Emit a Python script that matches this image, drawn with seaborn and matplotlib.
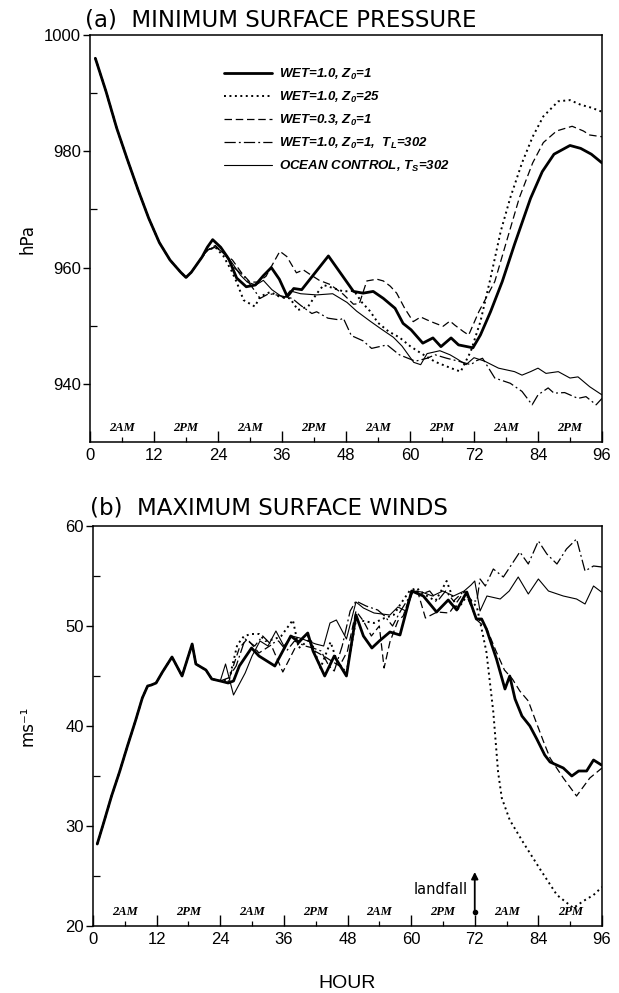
import matplotlib
matplotlib.use("Agg")
import matplotlib.pyplot as plt
import seaborn as sns
from matplotlib import font_manager
from matplotlib.ticker import FixedLocator

# ---------------- data ----------------
LABELS = ["WET=1.0, Z$_0$=1", "WET=1.0, Z$_0$=25", "WET=0.3, Z$_0$=1",
          "WET=1.0, Z$_0$=1,  T$_L$=302", "OCEAN CONTROL, T$_S$=302"]

# (a) minimum surface pressure (hPa) -- common early part
A_COMMON_H = [1, 3, 5, 7, 9, 11, 13, 15, 17, 18, 19, 20, 21]
A_COMMON_P = [996.0, 990.3, 984.0, 978.6, 973.4, 968.5, 964.3, 961.3, 959.2, 958.3, 959.2, 960.5, 961.8]

A1_H = [22, 23, 24.5, 26, 27.5, 29.3, 31, 32.5, 34, 35.5, 37, 38.2, 39.7, 44.7, 49.4, 51.2, 53.1, 55, 57.2, 58.7,
        60.2, 62.4, 64.3, 65.8, 67.7, 69.1, 71.8, 73.2, 75.1, 77.3, 79.6, 82.6, 84.8, 87, 90, 92, 94, 96]
A1_P = [963.5, 964.8, 963.5, 961.5, 958.2, 956.7, 957.0, 958.6, 960.0, 958.0, 955.0, 956.4, 956.2, 962.0, 955.9,
        955.6, 955.9, 954.7, 953.0, 950.4, 949.3, 947.0, 947.9, 946.4, 947.9, 946.7, 946.2, 948.4, 952.4, 957.6,
        964.0, 971.9, 976.5, 979.5, 981.0, 980.5, 979.5, 978.0]

A2_H = [22, 23.5, 25, 26.5, 27.5, 28.8, 30.9, 31.9, 33.8, 35.5, 37.5, 39, 40.9, 42.5, 43.8, 45.5, 47.5, 49.5, 51,
        52.5, 54, 56, 58, 60, 62, 64.7, 67.7, 69.5, 71.4, 73.2, 75.1, 77, 78.8, 81, 83, 85, 87.8, 90, 92, 94, 96]
A2_P = [963.0, 963.5, 962.0, 959.5, 957.5, 954.4, 953.3, 955.0, 955.8, 955.0, 954.7, 952.7, 953.3, 955.5, 957.0,
        956.5, 955.9, 956.0, 954.0, 952.5, 950.5, 949.0, 948.0, 946.5, 945.3, 943.8, 942.7, 942.1, 945.6, 950.7,
        958.2, 966.2, 972.0, 978.0, 982.5, 986.0, 988.6, 988.8, 988.0, 987.5, 986.8]

A3_H = [22, 23.5, 25, 26.7, 28.5, 30, 31.5, 33, 34.5, 35.6, 36.9, 38.7, 40, 41.3, 43, 45, 47.5, 49.4, 50.5, 51.9,
        53.8, 55, 56.3, 57.5, 59, 60.6, 62, 63.2, 64.5, 66.2, 67.5, 68.4, 70, 71, 72.9, 75.9, 78.1, 80.5, 83, 85,
        87.5, 90.4, 92.5, 93.7, 96]
A3_P = [963.0, 963.8, 962.5, 961.3, 959.0, 957.5, 957.5, 958.5, 961.0, 962.8, 961.9, 959.1, 959.6, 958.8, 957.8,
        957.1, 955.4, 953.7, 953.8, 957.7, 958.0, 957.7, 956.8, 955.6, 953.0, 950.7, 951.5, 951.0, 950.5, 949.9,
        950.8, 950.1, 949.0, 948.4, 952.4, 957.6, 964.5, 972.0, 978.0, 981.5, 983.5, 984.3, 983.5, 982.8, 982.5]

A4_H = [22, 23.5, 25, 27, 28.9, 30.5, 31.9, 33.5, 34.9, 36.5, 37.9, 39.5, 41.6, 42.5, 44.6, 46.8, 47.5, 49, 51.2,
        52.8, 55.7, 58, 61, 63.2, 64.7, 66.9, 69.1, 71.4, 72.5, 73.6, 75.9, 78.8, 81, 82.9, 84, 85.9, 87, 89, 91.5,
        93, 94.9, 96]
A4_P = [963.0, 963.5, 962.6, 960.0, 958.5, 956.5, 954.7, 955.5, 955.3, 955.0, 954.7, 953.5, 952.1, 952.4, 951.3,
        951.0, 951.3, 948.3, 947.4, 946.1, 946.7, 945.0, 943.9, 944.4, 945.0, 944.4, 943.9, 943.3, 944.0, 944.4,
        941.0, 940.1, 938.7, 936.4, 938.1, 939.3, 938.4, 938.5, 937.5, 937.8, 936.4, 937.5]

A5_H = [22, 23.5, 25, 26.5, 28.2, 29.5, 31.1, 32.5, 34.1, 36.4, 37.5, 39.5, 42.5, 45.5, 48.2, 50, 52.5, 54.5, 56.9,
        58.5, 60.7, 62, 63.2, 65.6, 67.5, 68.8, 70.5, 72, 74, 76.6, 79.6, 81, 82.6, 84, 85.5, 87.8, 90, 91.5, 93.7, 96]
A5_P = [963.0, 963.6, 962.5, 961.0, 958.7, 957.5, 957.0, 957.8, 956.2, 954.7, 956.0, 955.5, 955.3, 955.5, 954.0,
        952.5, 950.8, 949.5, 948.0, 946.5, 943.7, 943.3, 945.2, 945.7, 945.0, 944.3, 943.3, 944.5, 943.9, 942.7,
        942.1, 941.5, 942.1, 942.7, 941.8, 942.1, 941.0, 941.2, 939.5, 938.1]

# (b) maximum surface winds (m/s) -- common early part
B_COMMON_H = [0.8, 2, 3.5, 5, 6.5, 8, 9.3, 10.3, 11, 11.9, 13.1, 14.9, 16.8, 18.7, 19.4, 21.3, 22.4]
B_COMMON_W = [28.2, 30.3, 33.0, 35.4, 38.0, 40.5, 42.8, 44.0, 44.1, 44.3, 45.4, 46.9, 45.0, 48.2, 46.2, 45.6, 44.7]

B1_H = [24, 25.5, 26.5, 27.6, 29.9, 31.3, 34.3, 37.3, 38.8, 40.5, 41.5, 43.7, 45.5, 47.8, 49.6, 51, 52.6, 54, 56,
        57.9, 60.1, 62.3, 64.8, 67, 68.6, 70.5, 72.3, 73.3, 74.2, 76.1, 77.7, 78.6, 79.6, 80.9, 82.4, 83.7, 85.2,
        86.2, 88.7, 90.3, 91.6, 93.1, 94.4, 95.9]
B1_W = [44.5, 44.3, 44.5, 46.0, 47.8, 47.0, 46.0, 49.0, 48.4, 49.3, 47.5, 45.0, 47.0, 45.0, 51.1, 49.0, 47.8, 48.5,
        49.4, 49.1, 53.5, 53.0, 51.4, 52.6, 51.6, 53.4, 50.7, 50.7, 49.7, 46.7, 43.7, 45.0, 42.7, 41.0, 40.0, 38.7,
        37.1, 36.4, 35.8, 35.0, 35.5, 35.5, 36.6, 36.1]

B2_H = [24, 25.7, 27.2, 28.5, 29.9, 31.3, 32.5, 34.3, 35.5, 37.7, 38.8, 41, 42.9, 44.8, 46, 47.8, 49.6, 51, 53, 55,
        56.7, 58, 59.7, 61, 62.7, 64.6, 66.7, 68.7, 70.5, 72.4, 73.3, 74.2, 75.5, 76.4, 77.1, 78.6, 81.2, 84.3, 87.5,
        90.6, 92.5, 94.4, 96]
B2_W = [44.5, 44.7, 48.1, 49.0, 49.2, 49.2, 48.5, 48.7, 49.0, 50.6, 47.8, 48.7, 45.8, 48.4, 46.5, 45.3, 50.6, 50.5,
        50.3, 50.8, 51.1, 52.2, 53.5, 53.8, 53.1, 52.5, 54.5, 51.6, 53.0, 51.9, 49.7, 47.4, 41.4, 35.4, 32.8, 30.6,
        28.3, 25.7, 23.1, 21.8, 22.5, 23.1, 23.9]

B3_H = [24, 25.4, 27.6, 29.1, 31.3, 33.6, 35.8, 38.1, 40.3, 41.8, 43.5, 45, 46.5, 48, 49.6, 51, 52.5, 54, 54.9, 56,
        57.5, 58.5, 60.1, 61.2, 62.7, 64.9, 67.2, 70.1, 72.4, 74.3, 76, 77.6, 79.1, 80.5, 82.1, 83.5, 85, 86.2, 88.7,
        91.2, 93.7, 96]
B3_W = [44.5, 44.3, 47.8, 48.7, 47.3, 48.1, 45.4, 47.8, 49.2, 47.5, 47.0, 46.5, 46.0, 47.5, 51.5, 50.5, 49.0, 50.0,
        45.8, 48.4, 50.5, 51.0, 53.5, 53.5, 50.8, 51.4, 51.3, 53.5, 50.6, 49.7, 47.5, 45.6, 44.7, 43.5, 42.5, 40.5,
        38.4, 36.8, 34.8, 33.0, 34.8, 35.8]

B4_H = [24, 25.5, 27, 28.7, 30.5, 32, 33.5, 35, 36.5, 38, 40, 41.5, 43, 44.5, 45.5, 47, 48.5, 49.6, 51.5, 53.7, 55,
        56.5, 58, 60.4, 62, 63.5, 65, 66.5, 68, 70, 71.5, 72.4, 73, 74, 75.5, 77.4, 80.5, 82.1, 84, 85.6, 87.5, 89.3,
        91.2, 92.8, 94.4, 96]
B4_W = [44.5, 44.8, 46.0, 48.7, 48.0, 49.0, 48.2, 48.5, 47.5, 48.5, 48.0, 47.8, 47.5, 46.0, 45.5, 48.0, 51.5, 52.5,
        52.0, 51.6, 51.0, 50.0, 51.5, 53.5, 53.2, 53.5, 52.5, 53.5, 52.5, 53.5, 52.5, 52.5, 54.7, 54.0, 55.7, 54.9,
        57.4, 56.2, 58.5, 57.2, 56.2, 57.7, 58.7, 55.5, 56.0, 55.9]

B5_H = [24, 25, 26.5, 28.7, 30, 31.5, 33, 34.5, 36, 37.5, 39, 40.5, 42, 43.5, 44.7, 45.9, 47.8, 49.6, 51, 53, 56,
        57.5, 59, 60.4, 62, 64, 66, 68, 70, 71.3, 72, 73, 74.3, 76.8, 78.5, 80.2, 82.1, 84, 85.9, 88.7, 91.2, 92.8,
        94.4, 95.9]
B5_W = [44.5, 46.2, 43.1, 45.3, 47.0, 48.5, 48.0, 49.5, 48.0, 49.0, 48.8, 48.5, 48.2, 48.0, 50.3, 50.6, 48.7, 52.4,
        51.8, 51.3, 51.1, 51.9, 51.5, 53.5, 53.4, 53.0, 53.5, 53.0, 53.5, 54.1, 54.5, 51.5, 53.0, 52.7, 53.5, 54.9,
        53.2, 54.7, 53.5, 53.0, 52.7, 52.2, 54.0, 53.4]

X_TICKS = [0, 12, 24, 36, 48, 60, 72, 84, 96]
CLOCK_HOURS = [6, 18, 30, 42, 54, 66, 78, 90]
CLOCK_LABELS = ["2AM", "2PM", "2AM", "2PM", "2AM", "2PM", "2AM", "2PM"]
A_YTICKS = [940, 960, 980, 1000]
A_YMINOR = [950, 970, 990]
B_YTICKS = [20, 30, 40, 50, 60]
B_YMINOR = [25, 35, 45, 55]
LANDFALL_HOUR = 72

# ---------------- style ----------------
sns.set_style("ticks")
names = {f.name for f in font_manager.fontManager.ttflist}
NARROW = "Liberation Sans Narrow" if "Liberation Sans Narrow" in names else "Liberation Sans"
plt.rcParams['font.family'] = ['Liberation Sans', 'DejaVu Sans']
plt.rcParams['mathtext.fontset'] = 'custom'
plt.rcParams['mathtext.rm'] = 'Liberation Sans:italic:bold'
plt.rcParams['mathtext.it'] = 'Liberation Sans:italic:bold'
plt.rcParams['mathtext.bf'] = 'Liberation Sans:italic:bold'
plt.rcParams['axes.edgecolor'] = 'black'
plt.rcParams['axes.linewidth'] = 1.1
plt.rcParams['text.color'] = 'black'
plt.rcParams['axes.labelcolor'] = 'black'
plt.rcParams['xtick.color'] = 'black'
plt.rcParams['ytick.color'] = 'black'

STYLES = [
    dict(lw=2.0, ls='-', zorder=5),
    dict(lw=1.4, ls=(0, (1, 1.8)), zorder=4),
    dict(lw=0.9, ls=(0, (6, 3)), zorder=3),
    dict(lw=0.9, ls=(0, (9, 2.5, 1.5, 2.5)), zorder=3),
    dict(lw=0.8, ls='-', zorder=3),
]

fig = plt.figure(figsize=(6.19, 9.93), dpi=100)
axa = fig.add_axes([90 / 619, 1 - 442 / 993, 512 / 619, 407 / 993])
axb = fig.add_axes([93 / 619, 1 - 926 / 993, 509 / 619, 400 / 993])

A_SER = [(A1_H, A1_P), (A2_H, A2_P), (A3_H, A3_P), (A4_H, A4_P), (A5_H, A5_P)]
B_SER = [(B1_H, B1_W), (B2_H, B2_W), (B3_H, B3_W), (B4_H, B4_W), (B5_H, B5_W)]

for (h, v), st, lab in zip(A_SER, STYLES, LABELS):
    sns.lineplot(x=A_COMMON_H + h, y=A_COMMON_P + v, ax=axa, color='black',
                 linewidth=st['lw'], linestyle=st['ls'], zorder=st['zorder'],
                 label=lab, estimator=None, sort=False)
for (h, v), st in zip(B_SER, STYLES):
    sns.lineplot(x=B_COMMON_H + h, y=B_COMMON_W + v, ax=axb, color='black',
                 linewidth=st['lw'], linestyle=st['ls'], zorder=st['zorder'],
                 estimator=None, sort=False, legend=False)

handles, labels = axa.get_legend_handles_labels()
leg = axa.legend(handles, labels, loc='upper left', bbox_to_anchor=(0.262, 0.922),
                 frameon=False, borderpad=0, borderaxespad=0, handlelength=3.6,
                 handletextpad=0.55, labelspacing=0.6,
                 prop=dict(family='Liberation Sans', weight='bold', style='italic', size=9.5))

for ax, ylim, yt, ym in [(axa, (930, 1000), A_YTICKS, A_YMINOR), (axb, (20, 60), B_YTICKS, B_YMINOR)]:
    ax.set_xlim(0, 96)
    ax.set_ylim(*ylim)
    ax.set_xticks(X_TICKS)
    ax.xaxis.set_minor_locator(FixedLocator(CLOCK_HOURS))
    ax.set_yticks(yt)
    ax.yaxis.set_minor_locator(FixedLocator(ym))
    ax.tick_params(axis='x', which='major', direction='in', length=8, width=1, pad=4, labelsize=12,
                   colors='black')
    ax.tick_params(axis='x', which='minor', direction='in', length=3.5, width=0.9, colors='black')
    ax.tick_params(axis='y', which='major', direction='out', length=5, width=1, pad=1.5, labelsize=12,
                   colors='black')
    ax.tick_params(axis='y', which='minor', direction='in', length=5, width=0.9, colors='black')
    for lab in ax.get_xticklabels() + ax.get_yticklabels():
        lab.set_fontfamily(NARROW)
    ax.set_xlabel("")
    ax.set_ylabel("")
    for sp in ax.spines.values():
        sp.set_visible(True)
        sp.set_linewidth(1.1)
        sp.set_color('black')
    for hh, tx in zip(CLOCK_HOURS, CLOCK_LABELS):
        ax.text(hh, 0.034, tx, transform=ax.get_xaxis_transform(), ha='center', va='center',
                fontsize=9, family='Liberation Serif', weight='bold', style='italic')

axa.set_ylabel("hPa", fontsize=12, family='DejaVu Sans')
axa.yaxis.set_label_coords(-(90 - 36) / 512, 0.5)
axb.set_ylabel("ms\u207b\u00b9", fontsize=12, family='DejaVu Sans')
axb.yaxis.set_label_coords(-(93 - 36) / 509, 0.5)
axb.set_xlabel("HOUR", fontsize=14, family=NARROW)
axb.xaxis.set_label_coords(0.5, -(975 - 926) / 400)

fig.text(85 / 619, 1 - 20 / 993, "(a)  MINIMUM SURFACE PRESSURE", fontsize=16.5, va='center', ha='left',
         family='DejaVu Sans')
fig.text(90 / 619, 1 - 508 / 993, "(b)  MAXIMUM SURFACE WINDS", fontsize=16.5, va='center', ha='left',
         family='DejaVu Sans')

# landfall annotation
axb.annotate("", xy=(LANDFALL_HOUR, 25.4), xytext=(LANDFALL_HOUR, 21.4),
             arrowprops=dict(arrowstyle='-|>', color='black', lw=1.3, mutation_scale=10, shrinkA=0, shrinkB=0))
axb.plot([LANDFALL_HOUR], [21.4], 'o', color='black', ms=3)
axb.text(LANDFALL_HOUR - 1.3, 23.7, "landfall", ha='right', va='center', fontsize=10.5, family='DejaVu Sans')

fig.savefig("out.png", dpi=100, facecolor='white')
